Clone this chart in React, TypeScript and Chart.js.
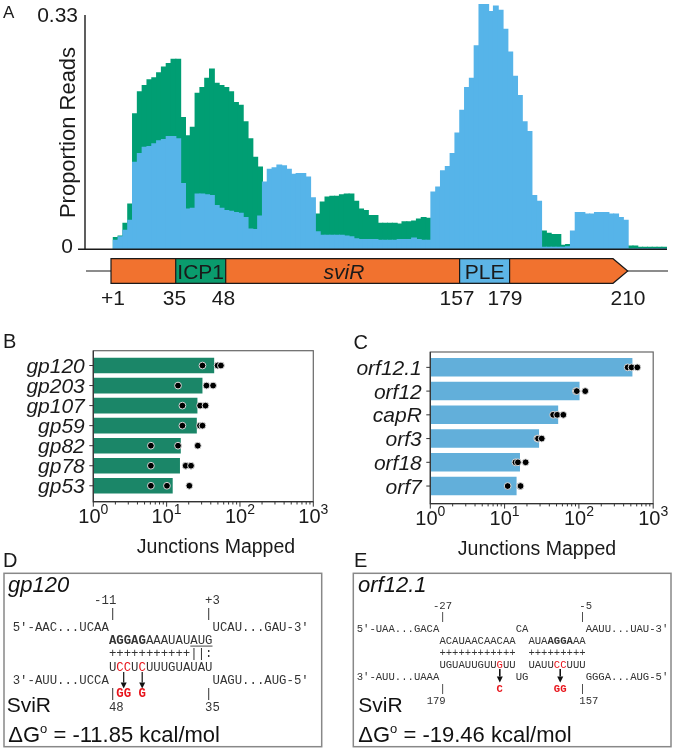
import React, { useEffect, useRef } from 'react';
import { Chart, registerables } from 'chart.js';

Chart.register(...registerables);

const FONT = '"Liberation Sans", Arial, Helvetica, sans-serif';
const MONO = '"Liberation Mono", "Courier New", monospace';

// ---------------- Panel A: read coverage (proportion of reads per bin) ----------------
const greenReads = [
  0.017, 0.019, 0.037, 0.064, 0.191, 0.222, 0.231, 0.239, 0.242, 0.249,
  0.257, 0.262, 0.268, 0.268, 0.186, 0.160, 0.172, 0.220, 0.228, 0.241,
  0.254, 0.234, 0.231, 0.228, 0.222, 0.207, 0.203, 0.180, 0.156, 0.130,
  0.116, 0.072, 0.068, 0.064, 0.062, 0.060, 0.058, 0.058, 0.056, 0.054,
  0.052, 0.050, 0.050, 0.067, 0.074, 0.075, 0.075, 0.077, 0.078, 0.078,
  0.068, 0.057, 0.055, 0.048, 0.048, 0.037, 0.037, 0.037, 0.037, 0.036,
  0.039, 0.039, 0.040, 0.043, 0.045, 0.044, 0.042, 0.040, 0.038, 0.036,
  0.034, 0.033, 0.032, 0.031, 0.030, 0.030, 0.030, 0.030, 0.030, 0.030,
  0.029, 0.029, 0.029, 0.028, 0.028, 0.028, 0.027, 0.027, 0.027, 0.026,
  0.023, 0.021, 0.021, 0.006, 0.007, 0.004, 0.004, 0.004, 0.004, 0.004,
  0.004, 0.004, 0.004, 0.004, 0.004, 0.004, 0.004, 0.005, 0.005, 0.003,
  0.003, 0.003, 0.003, 0.003, 0.003,
];
const blueReads = [
  0.013, 0.018, 0.027, 0.041, 0.123, 0.135, 0.144, 0.145, 0.149, 0.153,
  0.155, 0.159, 0.159, 0.156, 0.093, 0.057, 0.058, 0.078, 0.078, 0.077,
  0.076, 0.062, 0.058, 0.055, 0.054, 0.052, 0.051, 0.045, 0.029, 0.028,
  0.047, 0.095, 0.113, 0.115, 0.119, 0.118, 0.113, 0.106, 0.107, 0.107,
  0.102, 0.073, 0.025, 0.020, 0.020, 0.020, 0.020, 0.020, 0.019, 0.018,
  0.015, 0.014, 0.014, 0.014, 0.014, 0.013, 0.013, 0.013, 0.013, 0.014,
  0.014, 0.014, 0.016, 0.014, 0.013, 0.013, 0.081, 0.088, 0.111, 0.117,
  0.135, 0.164, 0.196, 0.228, 0.241, 0.287, 0.345, 0.345, 0.335, 0.343,
  0.337, 0.310, 0.278, 0.244, 0.217, 0.180, 0.166, 0.076, 0.068, 0.003,
  0.003, 0.003, 0.003, 0.003, 0.004, 0.026, 0.052, 0.052, 0.050, 0.050,
  0.052, 0.052, 0.052, 0.050, 0.050, 0.045, 0.041, 0.001, 0.001, 0.001,
  0.001, 0.001, 0.001, 0.001, 0.001,
];
const binIds = greenReads.map((_, i) => i);
const yTicksA = [0, 0.33];
const yTickLabelsA = ['0', '0.33'];
const yMaxA = 0.3483;

// gene map labels
const genePositions = ['+1', '35', '48', '157', '179', '210'];

// ---------------- Panel B ----------------
const genesB = ['gp120', 'gp203', 'gp107', 'gp59', 'gp82', 'gp78', 'gp53'];
const meanB = [44.5, 30.8, 26.3, 25.8, 15.6, 15.2, 12.1];
const rep1B = [30.8, 14.3, 16.4, 16.4, 6.1, 6.1, 6.1];
const rep2B = [49.5, 34.9, 28.6, 28.5, 14.3, 18.2, 10.1];
const rep3B = [55, 43, 33.9, 30.8, 26.6, 21.5, 20.4];

// ---------------- Panel C ----------------
const genesC = ['orf12.1', 'orf12', 'capR', 'orf3', 'orf18', 'orf7'];
const meanC = [525, 102, 52.6, 29.1, 16.1, 14.5];
const rep1C = [453, 90.8, 45, 27.5, 14, 11];
const rep2C = [511, 93.6, 51, 28.2, 15.1, 16.1];
const rep3C = [611, 121.6, 61.7, 31.6, 19.2, 16.4];

const logExponents = [0, 1, 2, 3];

// ---------------- Panels D / E (duplex text) ----------------
type Tok = [number, number, string, string?];
const duplexD: Tok[] = [
  [0, 11, '-11'], [0, 26, '+3'],
  [1, 13, '|'], [1, 26, '|'],
  [2, 0, "5'-AAC...UCAA"], [2, 27, "UCAU...GAU-3'"],
  [3, 13, 'AGGAG', 'b'], [3, 18, 'AAAUAU'], [3, 24, 'AUG', 'u'],
  [4, 13, '+++++++++++||:'],
  [5, 13, 'U'], [5, 14, 'CC', 'r'], [5, 16, 'U'], [5, 17, 'C', 'r'], [5, 18, 'UUUGUAUAU'],
  [6, 0, "3'-AUU...UCCA"], [6, 27, "UAGU...AUG-5'"],
  [7, 13, '|'], [7, 14, 'GG', 'rb'], [7, 17, 'G', 'rb'], [7, 26, '|'],
  [8, 13, '48'], [8, 26, '35'],
];
const duplexE: Tok[] = [
  [0, 12, '-27'], [0, 35, '-5'],
  [1, 13, '|'], [1, 35, '|'],
  [2, 0, "5'-UAA...GACA"], [2, 25, 'CA'], [2, 36, "AAUU...UAU-3'"],
  [3, 13, 'ACAUAACAACAA'], [3, 27, 'AUA'], [3, 30, 'AGGA', 'b'], [3, 34, 'AA'],
  [4, 13, '++++++++++++'], [4, 27, '+++++++++'],
  [5, 13, 'UGUAUUGUU'], [5, 22, 'G', 'r'], [5, 23, 'UU'], [5, 27, 'UAUU'], [5, 31, 'CC', 'r'], [5, 33, 'UUU'],
  [6, 0, "3'-AUU...UAAA"], [6, 25, 'UG'], [6, 36, "GGGA...AUG-5'"],
  [7, 13, '|'], [7, 22, 'C', 'rb'], [7, 31, 'GG', 'rb'], [7, 35, '|'],
  [8, 11, '179'], [8, 35, '157'],
];

// ---------------- plugins ----------------
const panelAPlugin = {
  id: 'panelA',
  afterDraw(chart: any) {
    const { ctx, chartArea: a, scales } = chart;
    const ys = scales.y;
    const y0 = ys.getPixelForValue(yTicksA[0]);
    const yTop = ys.getPixelForValue(yTicksA[1]);
    ctx.save();
    ctx.strokeStyle = '#1a1a1a';
    ctx.lineWidth = 1.4;
    ctx.beginPath();
    ctx.moveTo(a.left, yTop);
    ctx.lineTo(a.left, y0);
    ctx.stroke();
    ctx.beginPath();
    ctx.moveTo(a.left - 7, y0);
    ctx.lineTo(a.right, y0);
    ctx.stroke();

    ctx.fillStyle = '#1a1a1a';
    ctx.font = `21px ${FONT}`;
    ctx.textAlign = 'right';
    ctx.textBaseline = 'middle';
    ctx.fillText(yTickLabelsA[1], a.left - 7, yTop + 1);
    ctx.fillText(yTickLabelsA[0], a.left - 12, y0 - 2);

    ctx.save();
    ctx.translate(75, 132.5);
    ctx.rotate(-Math.PI / 2);
    ctx.textAlign = 'center';
    ctx.textBaseline = 'alphabetic';
    ctx.font = `22px ${FONT}`;
    ctx.fillText('Proportion Reads', 0, 0);
    ctx.restore();

    // gene map
    const gy = 271, gTop = 258.7, gBot = 283.3;
    ctx.lineWidth = 1.2;
    ctx.beginPath();
    ctx.moveTo(86, gy);
    ctx.lineTo(668, gy);
    ctx.stroke();
    ctx.beginPath();
    ctx.moveTo(111, gTop);
    ctx.lineTo(613, gTop);
    ctx.lineTo(627.7, gy);
    ctx.lineTo(613, gBot);
    ctx.lineTo(111, gBot);
    ctx.closePath();
    ctx.fillStyle = '#F1722F';
    ctx.fill();
    ctx.stroke();
    ctx.fillStyle = '#0A9B6D';
    ctx.fillRect(175.7, gTop, 50, gBot - gTop);
    ctx.strokeRect(175.7, gTop, 50, gBot - gTop);
    ctx.fillStyle = '#5DB5E6';
    ctx.fillRect(459.6, gTop, 50, gBot - gTop);
    ctx.strokeRect(459.6, gTop, 50, gBot - gTop);

    ctx.fillStyle = '#1a1a1a';
    ctx.textAlign = 'center';
    ctx.textBaseline = 'alphabetic';
    ctx.font = `21px ${FONT}`;
    ctx.fillText('ICP1', 200.7, gy + 7.5);
    ctx.fillText('PLE', 484.6, gy + 7.5);
    ctx.font = `italic 21px ${FONT}`;
    ctx.fillText('sviR', 344, gy + 7.5);
    ctx.font = `21px ${FONT}`;
    const px = [113, 174.5, 223.4, 457, 505, 628];
    genePositions.forEach((t, i) => ctx.fillText(t, px[i], 305.3));
    ctx.restore();
  },
};

function makeLogPlugin(labels: string[], frameTopExtra: number, frameBottomExtra: number, titleX: number) {
  return {
    id: 'logFrame',
    afterDraw(chart: any) {
      const { ctx, chartArea: a, scales } = chart;
      const xs = scales.x, ys = scales.y;
      const top = a.top - frameTopExtra;
      const bottom = a.bottom + frameBottomExtra;
      ctx.save();
      ctx.strokeStyle = '#666';
      ctx.lineWidth = 1.2;
      ctx.strokeRect(a.left, top, a.right - a.left, bottom - top);
      ctx.strokeStyle = '#333';
      ctx.beginPath();
      ctx.moveTo(a.left, top);
      ctx.lineTo(a.left, bottom);
      ctx.lineTo(a.right, bottom);
      ctx.stroke();
      // x ticks
      ctx.lineWidth = 1;
      for (let e = 0; e < 3; e++) {
        for (let m = 1; m <= 9; m++) {
          const v = m * Math.pow(10, e);
          const p = xs.getPixelForValue(v);
          const len = m === 1 ? 5 : 2.8;
          ctx.beginPath();
          ctx.moveTo(p, bottom);
          ctx.lineTo(p, bottom + len);
          ctx.stroke();
        }
      }
      const pEnd = xs.getPixelForValue(1000);
      ctx.beginPath();
      ctx.moveTo(pEnd, bottom);
      ctx.lineTo(pEnd, bottom + 5);
      ctx.stroke();
      // x tick labels 10^e
      ctx.fillStyle = '#1a1a1a';
      ctx.textBaseline = 'alphabetic';
      ctx.textAlign = 'left';
      logExponents.forEach((e) => {
        const p = xs.getPixelForValue(Math.pow(10, e));
        ctx.font = `20px ${FONT}`;
        const w1 = ctx.measureText('10').width;
        ctx.font = `14px ${FONT}`;
        const w2 = ctx.measureText(String(e)).width;
        const start = p - (w1 + w2) / 2;
        ctx.font = `20px ${FONT}`;
        ctx.fillText('10', start, bottom + 21.6);
        ctx.font = `14px ${FONT}`;
        ctx.fillText(String(e), start + w1, bottom + 12.3);
      });
      // y ticks + labels
      ctx.font = `italic 21px ${FONT}`;
      ctx.textAlign = 'right';
      labels.forEach((lab, i) => {
        const py = ys.getPixelForValue(i);
        ctx.beginPath();
        ctx.moveTo(a.left - 4, py);
        ctx.lineTo(a.left, py);
        ctx.stroke();
        ctx.fillText(lab, a.left - 8.5, py + 7.5);
      });
      // title
      ctx.font = `19.5px ${FONT}`;
      ctx.textAlign = 'center';
      ctx.fillText('Junctions Mapped', titleX, bottom + 51.3);
      ctx.restore();
    },
  };
}

function makeHBar(
  canvas: HTMLCanvasElement,
  labels: string[],
  means: number[],
  reps: number[][],
  color: string,
  padding: any,
  plugin: any,
) {
  const dots: any[] = [];
  labels.forEach((g, i) => reps.forEach((r) => dots.push({ x: r[i], y: g })));
  return new Chart(canvas, {
    type: 'bar',
    data: {
      labels,
      datasets: [
        {
          type: 'scatter',
          data: dots,
          backgroundColor: '#000',
          borderColor: '#d9d9d9',
          borderWidth: 1,
          pointRadius: 3.4,
          xAxisID: 'x',
          yAxisID: 'y',
        } as any,
        {
          type: 'bar',
          indexAxis: 'y',
          data: means,
          backgroundColor: color,
          borderWidth: 0,
          barPercentage: 0.78,
          categoryPercentage: 1,
          xAxisID: 'x',
          yAxisID: 'y',
        } as any,
      ],
    },
    options: {
      animation: false,
      responsive: false,
      maintainAspectRatio: false,
      layout: { padding },
      plugins: { legend: { display: false }, tooltip: { enabled: false } },
      scales: {
        x: { type: 'logarithmic', min: 1, max: 1000, display: false },
        y: { type: 'category', labels, offset: true, display: false },
      },
    } as any,
    plugins: [plugin],
  });
}

function ChartCanvas({ left, top, width, height, make }: any) {
  const ref = useRef<HTMLCanvasElement>(null);
  useEffect(() => {
    const chart = make(ref.current);
    return () => chart.destroy();
  }, []);
  return (
    <canvas
      ref={ref}
      width={width}
      height={height}
      style={{ position: 'absolute', left, top, width, height }}
    />
  );
}

function makeA(canvas: HTMLCanvasElement) {
  return new Chart(canvas, {
    type: 'bar',
    data: {
      datasets: [
        {
          label: 'PLE',
          data: binIds.map((i) => ({ x: i, y: blueReads[i] })),
          backgroundColor: '#56B4E9',
          borderWidth: 0,
          barThickness: 5.2,
          grouped: false,
        } as any,
        {
          label: 'ICP1',
          data: binIds.map((i) => ({ x: i, y: greenReads[i] })),
          backgroundColor: '#009E73',
          borderWidth: 0,
          barThickness: 5.2,
          grouped: false,
        } as any,
      ],
    },
    options: {
      animation: false,
      responsive: false,
      maintainAspectRatio: false,
      layout: { padding: { left: 85, right: 8, top: 2, bottom: 312 - 249.3 } },
      plugins: { legend: { display: false }, tooltip: { enabled: false } },
      scales: {
        x: { type: 'linear', min: -6.38, max: 114.57, display: false, offset: false },
        y: { type: 'linear', min: 0, max: yMaxA, display: false },
      },
    } as any,
    plugins: [panelAPlugin],
  });
}

function Duplex({ toks, x0, w, y0, dy, fs }: { toks: Tok[]; x0: number; w: number; y0: number; dy: number; fs: number }) {
  const out: any[] = [];
  toks.forEach(([r, c, t, s], i) => {
    const st = s || '';
    const x = x0 + c * w;
    const y = y0 + r * dy;
    out.push(
      <text
        key={'t' + i}
        x={x}
        y={y}
        fontFamily={MONO}
        fontSize={fs}
        fontWeight={st.includes('b') ? 'bold' : 'normal'}
        fill={st.includes('r') ? '#E8141B' : '#333'}
        style={{ whiteSpace: 'pre' }}
      >
        {t}
      </text>,
    );
    if (st.includes('u')) {
      out.push(<line key={'u' + i} x1={x} x2={x + t.length * w} y1={y + 2} y2={y + 2} stroke="#333" strokeWidth={0.9} />);
    }
  });
  return <g>{out}</g>;
}

function Arrow({ x, y1, y2, head, sw }: { x: number; y1: number; y2: number; head: number; sw: number }) {
  return (
    <g>
      <line x1={x} x2={x} y1={y1} y2={y2 - head} stroke="#111" strokeWidth={sw} />
      <polygon points={`${x - head / 2},${y2 - head} ${x + head / 2},${y2 - head} ${x},${y2}`} fill="#111" />
    </g>
  );
}

export default function App() {
  const wD = 7.4;
  const wE = 6.36;
  return (
    <div style={{ position: 'absolute', left: 0, top: 0, width: 675, height: 750, background: '#fff', overflow: 'hidden' }}>
      <ChartCanvas left={0} top={0} width={675} height={312} make={makeA} />
      <ChartCanvas
        left={0}
        top={320}
        width={337}
        height={240}
        make={(c: HTMLCanvasElement) =>
          makeHBar(c, genesB, meanB, [rep1B, rep2B, rep3B], '#1B8668',
            { left: 93.3, right: 23.7, top: 35.5, bottom: 64.2 },
            makeLogPlugin(genesB, 4.8, 5.9, 216))
        }
      />
      <ChartCanvas
        left={338}
        top={320}
        width={337}
        height={240}
        make={(c: HTMLCanvasElement) =>
          makeHBar(c, genesC, meanC, [rep1C, rep2C, rep3C], '#62AFDA',
            { left: 92.3, right: 21.8, top: 35.5, bottom: 62.1 },
            makeLogPlugin(genesC, 3.5, 5.7, 199))
        }
      />
      <svg
        width={675}
        height={750}
        style={{ position: 'absolute', left: 0, top: 0, pointerEvents: 'none' }}
      >
        <g fontFamily={FONT} fill="#1a1a1a">
          <text x={3} y={18.3} fontSize={17}>A</text>
          <text x={3} y={348} fontSize={20}>B</text>
          <text x={353.6} y={348.7} fontSize={20}>C</text>
          <text x={3} y={566.7} fontSize={20}>D</text>
          <text x={354} y={566.7} fontSize={20}>E</text>
        </g>

        <rect x={4} y={573.3} width={317.7} height={173.4} fill="none" stroke="#888" strokeWidth={1.5} />
        <rect x={353.3} y={573.3} width={317.7} height={173.4} fill="none" stroke="#888" strokeWidth={1.5} />

        <g fontFamily={FONT} fill="#111">
          <text x={8} y={591.7} fontSize={22} fontStyle="italic">gp120</text>
          <text x={6.7} y={711.7} fontSize={21}>SviR</text>
          <text x={8.3} y={741.7} fontSize={22}>
            ΔG<tspan dy={-9} fontSize={13}>o</tspan><tspan dy={9}> = -11.85 kcal/mol</tspan>
          </text>
          <text x={358} y={591.7} fontSize={22} fontStyle="italic">orf12.1</text>
          <text x={358.3} y={711.7} fontSize={21}>SviR</text>
          <text x={358.3} y={741.7} fontSize={22}>
            ΔG<tspan dy={-9} fontSize={13}>o</tspan><tspan dy={9}> = -19.46 kcal/mol</tspan>
          </text>
        </g>

        <Duplex toks={duplexD} x0={12.7} w={wD} y0={604.1} dy={13.33} fs={wD / 0.6} />
        <Duplex toks={duplexE} x0={356.7} w={wE} y0={608.5} dy={11.875} fs={wE / 0.6} />

        <Arrow x={12.7 + 15 * wD} y1={672} y2={688.5} head={6} sw={1.2} />
        <Arrow x={12.7 + 17.5 * wD} y1={672} y2={688.5} head={6} sw={1.2} />
        <Arrow x={356.7 + 22.5 * wE} y1={669} y2={682.5} head={6} sw={1.6} />
        <Arrow x={356.7 + 32 * wE} y1={669} y2={682.5} head={6} sw={1.6} />
      </svg>
    </div>
  );
}
